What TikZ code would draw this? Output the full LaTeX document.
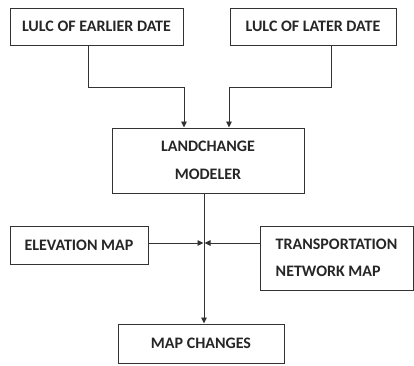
\documentclass[tikz,border=0pt]{standalone}
\usepackage{fontspec}
\setmainfont{Carlito}
\usetikzlibrary{arrows.meta}
\tikzset{
  block/.style={draw=black!80, line width=1pt, inner sep=0pt,
    font=\bfseries\fontsize{16}{19}\selectfont, text=black!85, align=center},
  arr/.style={draw=black!80, line width=0.9pt, -{Triangle[length=6pt,width=5.5pt]}}
}
\begin{document}
\begin{tikzpicture}[x=1pt,y=-1pt]
    \useasboundingbox (0,0) rectangle (414,365);

    % input maps
    \node[block, minimum width=173pt, minimum height=37pt] (early) at (96.5,26.5) {LULC OF EARLIER DATE};
    \node[block, minimum width=166pt, minimum height=37pt] (late) at (313,26.5) {LULC OF LATER DATE};

    % modeler
    \node[block, minimum width=192pt, minimum height=65pt] (model) at (208,160.5) {LANDCHANGE\\[9pt]MODELER};

    % drivers
    \node[block, minimum width=138pt, minimum height=38pt] (elev) at (79,245) {ELEVATION MAP};
    \node[block, minimum width=153pt, minimum height=64pt, align=left] (trans) at (336.5,258) {TRANSPORTATION\\[8pt]NETWORK MAP};

    % output
    \node[block, minimum width=166pt, minimum height=39pt] (change) at (201,343.5) {MAP CHANGES};

    \coordinate (inL) at (184,87);
    \coordinate (inR) at (229,87);
    \coordinate (hub) at (204,243);

    \draw[arr] ([xshift=-8.5pt]early.south) |- (inL) -- (model.north -| inL);
    \draw[arr] ([xshift=18pt]late.south) |- (inR) -- (model.north -| inR);
    \draw[arr] (model.south -| hub) -- (change.north -| hub);
    \draw[arr] (elev.east |- hub) -- ([xshift=-0.5pt]hub);
    \draw[arr] (trans.west |- hub) -- ([xshift=0.5pt]hub);
\end{tikzpicture}
\end{document}
